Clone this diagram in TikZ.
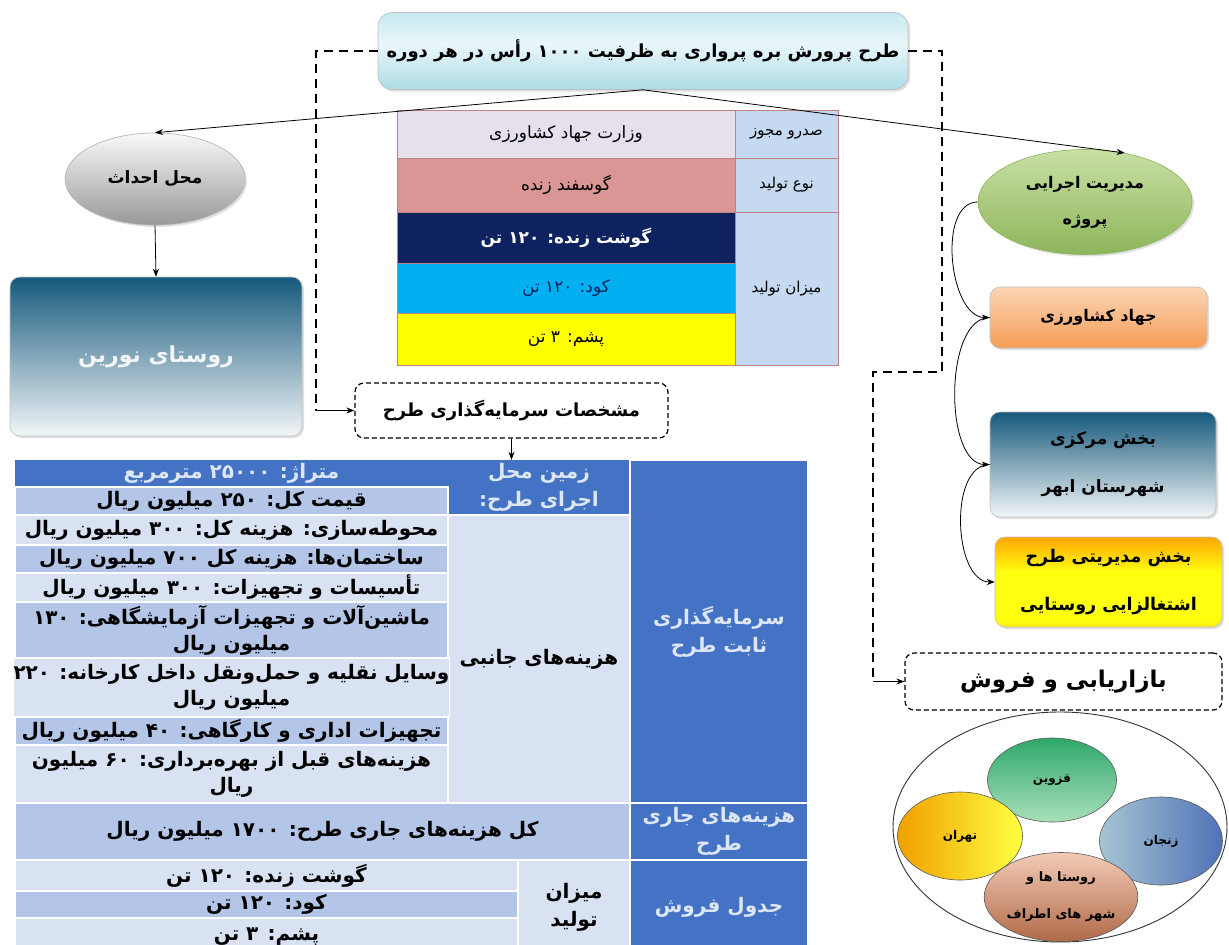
\documentclass[tikz,border=0pt]{standalone}
\usepackage{fontspec}
\usetikzlibrary{arrows.meta,shapes.geometric,shadows}
\TeXXeTstate=1
\newfontfamily\fafont[Script=Arabic]{DejaVu Sans}
\newcommand\FA[1]{{\fafont\bfseries\beginR #1\endR}}
\newcommand\FAr[1]{{\fafont\beginR #1\endR}}
\definecolor{titleTop}{HTML}{BDE5EE}
\definecolor{titleMid}{HTML}{EAF7FA}
\definecolor{titleBot}{HTML}{A3D8E2}
\definecolor{tealTop}{HTML}{16597C}
\definecolor{tealBot}{HTML}{F2F6F8}
\definecolor{modTop}{HTML}{C9E0A4}
\definecolor{modBot}{HTML}{8DB55A}
\definecolor{jahTop}{HTML}{FCD5B5}
\definecolor{jahBot}{HTML}{F59D56}
\definecolor{orTop}{HTML}{FF7300}
\definecolor{orMid}{HTML}{FFFF10}
\definecolor{orBot}{HTML}{FF9000}
\definecolor{qazTop}{HTML}{2FA86A}
\definecolor{qazBot}{HTML}{A8E0BA}
\definecolor{tehL}{HTML}{F0A000}
\definecolor{tehR}{HTML}{FFFF40}
\definecolor{zanL}{HTML}{A7C4D2}
\definecolor{zanR}{HTML}{4F72B8}
\definecolor{rusTop}{HTML}{F3CBB6}
\definecolor{rusBot}{HTML}{B06A48}
\definecolor{tA}{HTML}{E6E0EC}
\definecolor{tB}{HTML}{D99694}
\definecolor{tC}{HTML}{0F2260}
\definecolor{tD}{HTML}{00B0F0}
\definecolor{tE}{HTML}{FFFF00}
\definecolor{tL}{HTML}{C5D9F1}
\definecolor{tBorder}{HTML}{C47F7F}
\definecolor{dk}{HTML}{4472C4}
\definecolor{md}{HTML}{B4C6E7}
\definecolor{lt}{HTML}{D9E2F3}
\definecolor{hdrTxt}{HTML}{DCE6F4}
\definecolor{kudTxt}{HTML}{0F2260}
\pgfdeclareverticalshading{orshade}{100bp}{color(0bp)=(orBot); color(8bp)=(orBot!70!orMid); color(30bp)=(orMid); color(55bp)=(orMid); color(80bp)=(orBot); color(100bp)=(orTop)}
\pgfdeclareverticalshading{titleshade}{100bp}{color(0bp)=(titleBot); color(20bp)=(titleBot); color(55bp)=(titleMid); color(80bp)=(titleTop); color(100bp)=(titleTop)}
\begin{document}
\begin{tikzpicture}[x=1pt,y=-1pt,
  cell/.style={rectangle, inner sep=0pt, anchor=center, align=center},
  ctab/.style={cell, draw=tBorder, line width=0.7pt, font=\fontsize{17}{20}\selectfont},
  btab/.style={cell, draw=white, line width=1.2pt, font=\fontsize{20}{26}\selectfont},
  dtab/.style={cell, fill=dk, text=hdrTxt, font=\fontsize{20}{28}\selectfont},
  arr/.style={line width=0.8pt, -{Stealth[length=8pt,width=6pt]}},
  dashln/.style={line width=1.8pt, dash pattern=on 9pt off 6pt},
  dashbox/.style={rectangle, rounded corners=9pt, draw, line width=1.2pt, dash pattern=on 5pt off 3pt, inner sep=0pt},
  shd/.style={drop shadow={opacity=0.25, shadow xshift=2pt, shadow yshift=-2pt}},
  rbox/.style={rectangle, rounded corners=10pt, draw=gray!50, line width=0.6pt, inner sep=0pt, align=center},
  ell/.style={ellipse, inner sep=0pt, align=center, draw=gray!70!black, line width=0.6pt}
]
\path[use as bounding box, fill=white] (0,0) rectangle (1229,945);

% ---------- title ----------
\node[rbox, shd, rounded corners=14pt, shading=titleshade,
  minimum width=530pt, minimum height=77pt, font=\fontsize{18}{22}\selectfont] (title) at (643,51)
  {\FA{طرح پرورش بره پرواری به ظرفیت ۱۰۰۰ رأس در هر دوره}};

% ---------- left branch ----------
\node[ell, shd, draw=gray!60, top color=white!95!gray, bottom color=gray!80, minimum width=180pt, minimum height=92pt,
  font=\fontsize{17}{20}\selectfont] (mahal) at (155,179) {\FA{محل احداث}};
\node[rbox, shd, top color=tealTop, bottom color=tealBot, minimum width=292pt, minimum height=159pt,
  text=tealBot, font=\fontsize{22}{26}\selectfont] (nourin) at (156,356.5) {\FA{روستای نورین}};
\draw[arr] (mahal.south) -- (nourin.north);

% ---------- center table ----------
\node[ctab, fill=tA, minimum width=338pt, minimum height=48pt] (ta) at (566,134) {\FAr{وزارت جهاد کشاورزی}};
\node[ctab, fill=tB, minimum width=338pt, minimum height=54pt] (tb) at (566,185) {\FAr{گوسفند زنده}};
\node[ctab, fill=tC, text=white, minimum width=338pt, minimum height=51pt] (tc) at (566,237.5) {\FA{گوشت زنده: ۱۲۰ تن}};
\node[ctab, fill=tD, text=kudTxt, minimum width=338pt, minimum height=50pt] (td) at (566,288) {\FAr{کود: ۱۲۰ تن}};
\node[ctab, fill=tE, minimum width=338pt, minimum height=52pt] (te) at (566,339) {\FAr{پشم: ۳ تن}};
\node[ctab, fill=tL, minimum width=103pt, minimum height=48pt, font=\fontsize{15}{18}\selectfont] (la) at (786.5,134) {\FAr{صدرو مجوز}};
\node[ctab, fill=tL, minimum width=103pt, minimum height=54pt, font=\fontsize{15}{18}\selectfont] (lb) at (786.5,185) {\FAr{نوع تولید}};
\node[ctab, fill=tL, minimum width=103pt, minimum height=153pt, font=\fontsize{15}{18}\selectfont] (lc) at (786.5,288.5) {\FAr{میزان تولید}};

% ---------- right branch ----------
\node[ell, shd, draw=modBot, top color=modTop, bottom color=modBot, minimum width=214pt, minimum height=105pt,
  font=\fontsize{16}{36}\selectfont] (modir) at (1085,202) {\FA{مدیریت اجرایی}\\\FA{پروژه}};
\node[rbox, shd, top color=jahTop, bottom color=jahBot, minimum width=217pt, minimum height=61pt,
  font=\fontsize{16}{18}\selectfont] (jahad) at (1098.5,317.5) {\FA{جهاد کشاورزی}};
\node[rbox, shd, top color=tealTop, bottom color=tealBot, minimum width=226pt, minimum height=105pt,
  font=\fontsize{17}{48}\selectfont] (markazi) at (1103,464.5) {\FA{بخش مرکزی}\\\FA{شهرستان ابهر}};
\node[rbox, shd, shading=orshade, minimum width=227pt, minimum height=90pt,
  font=\fontsize{17.5}{48}\selectfont] (modiriati) at (1108.5,582) {\FA{بخش مدیریتی طرح}\\\FA{اشتغالزایی روستایی}};

\draw[arr] (modir.west) to[out=180,in=180,looseness=0.9] (jahad.west);
\draw[arr] (jahad.west) to[out=180,in=180,looseness=0.8] (markazi.west);
\draw[arr] (markazi.west) to[out=180,in=180,looseness=0.9] (modiriati.west);

% ---------- dashed boxes ----------
\node[dashbox, minimum width=313pt, minimum height=55pt, font=\fontsize{18}{20}\selectfont] (mosh) at (511.5,410.5)
  {\FA{مشخصات سرمایه‌گذاری طرح}};
\node[dashbox, minimum width=317pt, minimum height=57pt, font=\fontsize{23}{26}\selectfont] (bazar) at (1063.5,681.5)
  {\FA{بازاریابی و فروش}};

\coordinate (dL) at (316,410.5);
\coordinate (dR1) at (942,372);
\coordinate (dR2) at (873,681.5);
\draw[dashln] (title.west) -| (dL);
\draw[arr, line width=1.2pt] (dL) -- (mosh.west);
\draw[dashln] (title.east) -| (dR1) -| (dR2);
\draw[arr, line width=1.2pt] (dR2) -- (bazar.west);

% ---------- solid arrows from title ----------
\draw[arr] (title.south) -- (mahal.north);
\draw[arr] (title.south) -- (modir.51);

% ---------- markets ----------
\node[ell, minimum width=334pt, minimum height=230pt, draw=black!80, line width=0.9pt] (market) at (1060,827) {};
\node[ell, top color=qazTop, bottom color=qazBot, minimum width=129pt, minimum height=84pt,
  font=\fontsize{12}{14}\selectfont] (qazvin) at (1052,780) {\FA{قزوین}};
\node[ell, left color=tehL, right color=tehR, minimum width=125pt, minimum height=88pt,
  font=\fontsize{12}{14}\selectfont] (tehran) at (960,836) {\FA{تهران}};
\node[ell, left color=zanL, right color=zanR, minimum width=123pt, minimum height=88pt,
  font=\fontsize{12}{14}\selectfont] (zanjan) at (1161,841) {\FA{زنجان}};
\node[ell, top color=rusTop, bottom color=rusBot, minimum width=123pt, minimum height=89pt,
  font=\fontsize{13}{37}\selectfont] (rusta) at (1061,897) {\FA{روستا ها و}\\\FA{شهر های اطراف}};

% ---------- bottom table ----------
\node[dtab, minimum width=433pt, minimum height=27pt] (hdr) at (231.5,473.5) {\FA{متراژ: ۲۵۰۰۰ مترمربع}};
\node[dtab, minimum width=182pt, minimum height=55pt] (zamin) at (539,487.5) {\FA{زمین محل}\\\FA{اجرای طرح:}};
\node[dtab, draw=white, line width=1.2pt, minimum width=178pt, minimum height=343pt] (sabet) at (719,631.5)
  {\FA{سرمایه‌گذاری}\\\FA{ثابت طرح}};
\node[btab, fill=md, minimum width=433pt, minimum height=28pt] (gheymat) at (231.5,501) {\FA{قیمت کل: ۲۵۰ میلیون ریال}};
\node[btab, fill=lt, minimum width=182pt, minimum height=288pt] (janebi) at (539,659) {\FA{هزینه‌های جانبی}};
\node[btab, fill=lt, minimum width=433pt, minimum height=30pt] (mohavat) at (231.5,530) {\FA{محوطه‌سازی: هزینه کل: ۳۰۰ میلیون ریال}};
\node[btab, fill=md, minimum width=433pt, minimum height=28pt] (sakht) at (231.5,559) {\FA{ساختمان‌ها: هزینه کل ۷۰۰ میلیون ریال}};
\node[btab, fill=lt, minimum width=433pt, minimum height=29pt] (tasis) at (231.5,587.5) {\FA{تأسیسات و تجهیزات: ۳۰۰ میلیون ریال}};
\node[btab, fill=md, minimum width=433pt, minimum height=56pt] (mashin) at (231.5,630)
  {\FA{ماشین‌آلات و تجهیزات آزمایشگاهی: ۱۳۰}\\\FA{میلیون ریال}};
\node[btab, fill=lt, minimum width=433pt, minimum height=59pt] (vasayel) at (231.5,687.5)
  {\FA{وسایل نقلیه و حمل‌ونقل داخل کارخانه: ۲۲۰}\\\FA{میلیون ریال}};
\node[btab, fill=md, minimum width=433pt, minimum height=28pt] (edari) at (231.5,731) {\FA{تجهیزات اداری و کارگاهی: ۴۰ میلیون ریال}};
\node[btab, fill=lt, minimum width=433pt, minimum height=58pt] (ghabl) at (231.5,774)
  {\FA{هزینه‌های قبل از بهره‌برداری: ۶۰ میلیون}\\\FA{ریال}};
\node[dtab, draw=white, line width=1.2pt, minimum width=178pt, minimum height=57pt] (jarilbl) at (719,831.5)
  {\FA{هزینه‌های جاری}\\\FA{طرح}};
\node[btab, fill=md, minimum width=615pt, minimum height=57pt] (jari) at (322.5,831.5) {\FA{کل هزینه‌های جاری طرح: ۱۷۰۰ میلیون ریال}};
\node[dtab, draw=white, line width=1.2pt, minimum width=178pt, minimum height=95pt] (forush) at (719,907.5) {\FA{جدول فروش}};
\node[btab, fill=lt, minimum width=112pt, minimum height=95pt, font=\fontsize{20}{28}\selectfont] (mizan) at (574,907.5) {\FA{میزان}\\\FA{تولید}};
\node[btab, fill=lt, minimum width=503pt, minimum height=31pt] (gusht) at (266.5,875.5) {\FA{گوشت زنده: ۱۲۰ تن}};
\node[btab, fill=md, minimum width=503pt, minimum height=27pt] (kud) at (266.5,904.5) {\FA{کود: ۱۲۰ تن}};
\node[btab, fill=lt, minimum width=503pt, minimum height=37pt] (pashm) at (266.5,936.5) {\FA{پشم: ۳ تن}};
\draw[arr] (mosh.south) -- (hdr.north -| mosh.south);
\end{tikzpicture}
\end{document}
